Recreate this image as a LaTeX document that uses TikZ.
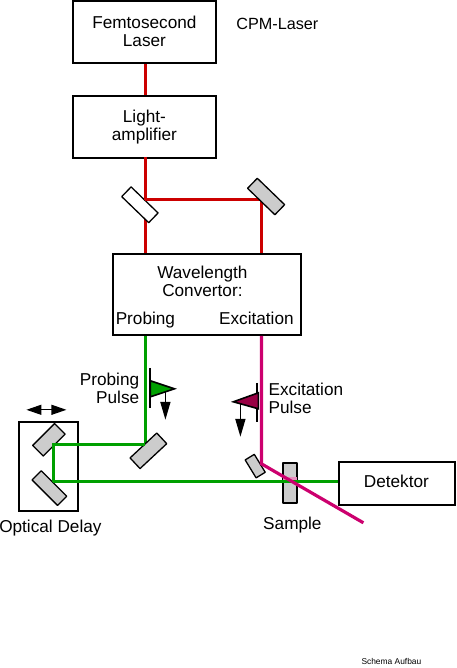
\documentclass[tikz,border=0pt]{standalone}
\usepackage{fontspec}
\setmainfont{Liberation Sans}
\usetikzlibrary{arrows.meta}
\definecolor{redbeam}{RGB}{204,0,0}
\definecolor{greenbeam}{RGB}{0,160,0}
\definecolor{magbeam}{RGB}{204,0,110}
\definecolor{mirrorgray}{RGB}{204,204,204}
\definecolor{darkmag}{RGB}{153,0,68}
\tikzset{
 x=1pt,y=-1pt,
 boxn/.style={draw=black,line width=2pt,inner sep=0pt},
 txt/.style={font=\fontsize{17.2}{18}\selectfont,align=center,inner sep=0pt},
 mirror/.style={draw=black,fill=mirrorgray,line width=1.3pt,inner sep=0pt,line join=round},
 red beam/.style={draw=redbeam,line width=3.2pt},
 green beam/.style={draw=greenbeam,line width=3.2pt},
 mag beam/.style={draw=magbeam,line width=3.2pt},
 blackarrow/.style={draw=black,line width=1.7pt,-{Triangle[length=18pt,width=10pt]}},
 blackdouble/.style={draw=black,line width=1.2pt,{Triangle[length=15pt,width=10pt]}-{Triangle[length=15pt,width=10pt]}},
 pulsebar/.style={draw=black,line width=2pt},
 pulsetip/.style={draw=black,line width=1.6pt,line join=miter},
}
\newcommand{\bx}[5]{\node[boxn,minimum width=#3pt,minimum height=#4pt,anchor=north west] (#5) at (#1,#2) {};}
\begin{document}
\begin{tikzpicture}
\useasboundingbox (0,0) rectangle (456,668);
\begin{scope}[shift={(-0.6,-0.2)}]
\bx{73}{0}{143}{62}{laser}
\bx{73}{95}{143}{62}{amp}
\bx{113}{253}{188}{81}{conv}
\bx{339}{461}{116}{43}{det}
\bx{19}{421}{59}{89}{delay}
\node[txt,anchor=base] at (145,47) {Femtosecond\\Laser};
\node[txt,anchor=base,font=\fontsize{16.2}{18}\selectfont] (cpm) at (278,30) {CPM-Laser};
\node[txt,anchor=base] at (145,141) {Light-\\amplifier};
\node[txt,anchor=base] at (203,297) {Wavelength\\Convertor:};
\node[txt,anchor=base] at (146,325) {Probing};
\node[txt,anchor=base] at (257,325) {Excitation};
\node[txt,anchor=base] at (397,488) {Detektor};
\node[txt,anchor=base] at (51,533) {Optical Delay};
\node[txt,anchor=base] at (293,530) {Sample};
\node[txt,align=right,anchor=east] at (140,389) {Probing\\Pulse};
\node[txt,align=left,anchor=west] at (269,399) {Excitation\\Pulse};
\node[font=\fontsize{8.4}{9}\selectfont,inner sep=0pt] at (392,662) {Schema Aufbau};
% beams
\coordinate (r1) at (146,200);
\coordinate (r2) at (262,200);
\draw[red beam] (laser.south -| r1) -- (amp.north -| r1);
\draw[red beam] (amp.south -| r1) -- (conv.north -| r1);
\draw[red beam] (r1) -- (r2) -- (conv.north -| r2);
\coordinate (g1) at (146,445);
\coordinate (g2) at (54,445);
\coordinate (g3) at (54,482);
\draw[green beam] (conv.south -| g1) -- (g1) -- (g2) -- (g3) -- (det.west |- g3);
\node[mirror,fill=white,minimum width=37.5pt,minimum height=13.5pt,rotate=-44] (bs) at (140.5,205) {};
\draw[red beam] (r1) -- (r2);
\draw[red beam] (146,157) -- (r1);
\node[mirror,minimum width=38pt,minimum height=14pt,rotate=-44] (m1) at (266.7,196.7) {};
\node[mirror,minimum width=31pt,minimum height=15pt,rotate=45] (d1) at (49.5,440) {};
\node[mirror,minimum width=36pt,minimum height=13pt,rotate=-45] (d2) at (50,488.3) {};
\node[mirror,minimum width=36.5pt,minimum height=14.6pt,rotate=43] (m2) at (149,451) {};
\node[mirror,minimum width=21pt,minimum height=10.7pt,rotate=-58.6] (m3) at (255.8,466.3) {};
\node[mirror,line width=1.8pt,minimum width=14.3pt,minimum height=40pt] (sample) at (290.8,483) {};
\fill[magbeam!45!white] ([xshift=1pt]sample.west |- 0,477.5) rectangle ([xshift=-1pt]sample.east |- 0,482);
\draw[green beam] (54,482) -- (det.west |- g3);
\coordinate (e1) at (262,464);
\coordinate (e2) at (364,523);
\draw[mag beam] (conv.south -| e1) -- (e1) -- (e2);
\draw[green beam] (g1) -- (g2) -- (g3);
% pulse glyphs
\coordinate (pa) at (151,368); \coordinate (pb) at (151,408);
\draw[pulsebar] (pa) -- (pb);
\draw[pulsetip,fill=greenbeam] (151,381) -- (175,389) -- (151,397) -- cycle;
\coordinate (pc) at (166,392); \coordinate (pd) at (166,420);
\draw[blackarrow] (pc) -- (pd);
\coordinate (xa) at (258,383); \coordinate (xb) at (258,422);
\draw[pulsebar] (xa) -- (xb);
\draw[pulsetip,fill=darkmag] (259,393) -- (234,402) -- (259,409) -- cycle;
\coordinate (xc) at (241,404); \coordinate (xd) at (241,437);
\draw[blackarrow] (xc) -- (xd);
\coordinate (da) at (27,410); \coordinate (db) at (67,410);
\draw[blackdouble] (da) -- (db);
\end{scope}
\end{tikzpicture}
\end{document}
